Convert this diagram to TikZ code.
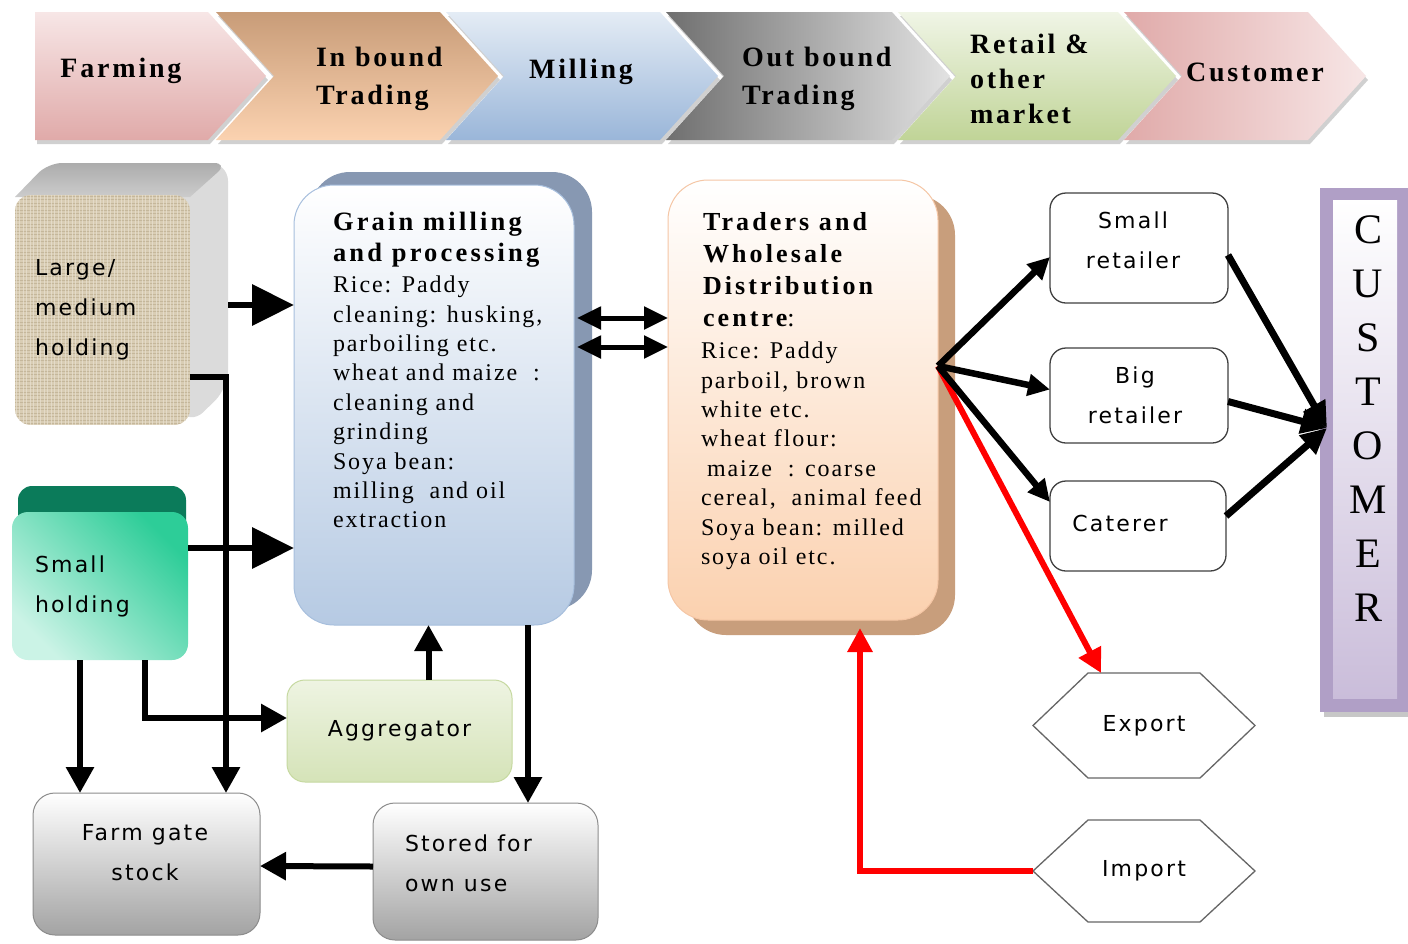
\documentclass[tikz,border=0pt]{standalone}
\usepackage{fontspec}
\setmainfont{Liberation Serif}
\newfontfamily\hdfont[LetterSpace=10]{Liberation Serif}
\newfontfamily\gtfont[LetterSpace=12]{Liberation Serif}
\newfontfamily\bdfont[LetterSpace=8]{Liberation Serif}
\newfontfamily\sffnt[LetterSpace=10]{DejaVu Sans}
\usetikzlibrary{arrows.meta,calc,shadows}

\definecolor{pinkA}{HTML}{F7E6E6}
\definecolor{pinkB}{HTML}{E0AAA9}
\definecolor{tanA}{HTML}{C89C78}
\definecolor{tanB}{HTML}{FBD2B0}
\definecolor{bluA}{HTML}{E4ECF5}
\definecolor{bluB}{HTML}{9AB6D9}
\definecolor{gryA}{HTML}{6F6F6F}
\definecolor{gryB}{HTML}{E2E2E2}
\definecolor{grnA}{HTML}{F0F5E6}
\definecolor{grnB}{HTML}{C0D497}
\definecolor{beige}{HTML}{D9CDB4}
\definecolor{texA}{HTML}{C5B79B}
\definecolor{texB}{HTML}{EAE2D2}
\definecolor{dkgrn}{HTML}{0B7B5A}
\definecolor{grnTop}{HTML}{2DCD98}
\definecolor{grnBot}{HTML}{CBF3E6}
\definecolor{gmBack}{HTML}{8798B2}
\definecolor{gmBot}{HTML}{B6CAE3}
\definecolor{gmLine}{HTML}{A7BFDD}
\definecolor{trBack}{HTML}{C89E7C}
\definecolor{trBot}{HTML}{FBD1AF}
\definecolor{trLine}{HTML}{F5C6A5}
\definecolor{agTop}{HTML}{EEF4E2}
\definecolor{agBot}{HTML}{D5E3B8}
\definecolor{agLine}{HTML}{C6D9A0}
\definecolor{gBot}{HTML}{A3A3A3}
\definecolor{purOut}{HTML}{B09FC6}
\definecolor{purIn}{HTML}{CABDDA}
\definecolor{arRed}{HTML}{FF0000}

\newcommand\myhex[1]{\draw[black!60, line width=1.3pt] (#1.west) -- ($(#1.north west)+(55,0)$) -- ($(#1.north east)+(-55,0)$) -- (#1.east) -- ($(#1.south east)+(-55,0)$) -- ($(#1.south west)+(55,0)$) -- cycle;}

\begin{document}
\begin{tikzpicture}[x=1pt,y=-1pt,
  every node/.style={inner sep=0pt,outer sep=0pt},
  chev/.style={drop shadow={shadow xshift=2pt, shadow yshift=-4pt, opacity=0.3, fill=black!60}},
  hdtxt/.style={font=\hdfont\bfseries\fontsize{28}{38}\selectfont, align=left},
  gtitle/.style={font=\gtfont\bfseries\fontsize{26.5}{31}\selectfont, align=left},
  gbody/.style={font=\bdfont\fontsize{24}{29.4}\selectfont, align=left},
  sanstxt/.style={font=\sffnt\fontsize{22}{40}\selectfont, align=left},
  bigarr/.style={line width=6.5pt, -{Triangle[length=42pt,width=40pt]}},
  arrS/.style={line width=6pt, -{Triangle[length=26pt,width=27pt]}},
  dbl/.style={line width=5pt, {Triangle[length=24pt,width=22pt]}-{Triangle[length=24pt,width=22pt]}},
  fanarr/.style={line width=6.5pt, -{Triangle[length=22pt,width=21pt]}},
  custarr/.style={line width=7pt, -{Triangle[length=26pt,width=24pt]}},
  redarr/.style={arRed, line width=6pt, -{Triangle[length=24pt,width=24pt]}},
  wbox/.style={draw=black!75, line width=1.3pt, fill=white, rounded corners=16pt},
  gbox/.style={draw=black!45, line width=1pt, top color=white, bottom color=gBot, rounded corners=22pt}
]
\useasboundingbox (0,0) rectangle (1408,943);
\fill[white] (0,0) rectangle (1408,943);

% ---------- header chevrons ----------
\shade[chev, top color=pinkA, bottom color=pinkB] (35,12) -- (208,12) -- (266,76) -- (208,140) -- (35,140) -- cycle;
\shade[chev, top color=tanA, bottom color=tanB] (216,12) -- (440,12) -- (498,76) -- (440,140) -- (216,140) -- (274,76) -- cycle;
\shade[chev, top color=bluA, bottom color=bluB] (446,12) -- (660,12) -- (718,76) -- (660,140) -- (446,140) -- (504,76) -- cycle;
\shade[chev, left color=gryA, right color=gryB] (666,12) -- (892,12) -- (950,76) -- (892,140) -- (666,140) -- (724,76) -- cycle;
\shade[chev, top color=grnA, bottom color=grnB] (898,12) -- (1118,12) -- (1176,76) -- (1118,140) -- (898,140) -- (956,76) -- cycle;
\shade[chev, left color=pinkB, right color=pinkA] (1124,12) -- (1308,12) -- (1366,76) -- (1308,140) -- (1124,140) -- (1182,76) -- cycle;

\node[hdtxt, anchor=base] (lfarm) at (121,77) {Farming};
\node[hdtxt, anchor=north west] (linb) at (316,47) {In bound\\Trading};
\node[hdtxt, anchor=base] (lmill) at (581,78) {Milling};
\node[hdtxt, anchor=north west] (loutb) at (742,47) {Out bound\\Trading};
\node[hdtxt, font=\hdfont\bfseries\fontsize{28}{35}\selectfont, anchor=north west] (lret) at (970,34) {Retail \&\\other\\market};
\node[hdtxt, anchor=base] (lcust) at (1255,81) {Customer};

% ---------- Large / medium holding (3D block) ----------
\fill[gray!28, rounded corners=18pt] (15,205) -- (48,163) -- (228,163) -- (228,388) -- (190,425) -- cycle;
\shade[top color=gray!65, bottom color=gray!40] (15,197) [rounded corners=14pt] -- (48,163) -- (228,163) [sharp corners] -- (190,197) -- cycle;
\begin{scope}
\clip[rounded corners=16pt] (15,195) rectangle (190,425);
\fill[beige] (15,195) rectangle (190,425);
\foreach \k in {1,4.5,...,232} \draw[texA, line width=0.8pt] (15,195+\k) -- (190,195+\k);
\foreach \k in {1,4.5,...,176} \draw[texB, line width=0.8pt, opacity=0.7] (15+\k,195) -- (15+\k,425);
\end{scope}
\node[sanstxt, minimum width=175pt, minimum height=230pt, text width=135pt] (large) at (102.5,310) {Large/\\medium\\holding};

% ---------- Small holding ----------
\fill[dkgrn, rounded corners=14pt] (18,486) rectangle (186,545);
\node[sanstxt, rounded corners=16pt, top color=grnTop, bottom color=grnBot, shading angle=-45,
      minimum width=176pt, minimum height=148pt, text width=130pt] (small) at (100,586) {Small\\holding};

% ---------- Grain milling ----------
\fill[gmBack, rounded corners=40pt] (310,172) rectangle (592,610);
\node[rounded corners=40pt, top color=white, bottom color=gmBot, draw=gmLine, line width=1pt,
      minimum width=280pt, minimum height=440pt] (grain) at (434,405) {};
\node[gtitle, anchor=north west] (gmt) at (333,212) {Grain milling\\and processing};
\node[gbody, anchor=north west] (gmb) at (333,276) {Rice: Paddy\\cleaning: husking,\\parboiling etc.\\wheat and maize\ \ :\\cleaning and\\grinding\\Soya bean:\\milling\ \ and oil\\extraction};

% ---------- Traders ----------
\fill[trBack, rounded corners=40pt] (686,195) rectangle (955,635);
\node[rounded corners=40pt, top color=white, bottom color=trBot, draw=trLine, line width=1pt,
      minimum width=270pt, minimum height=440pt] (traders) at (803,400) {};
\node[gtitle, font=\gtfont\bfseries\fontsize{26}{32}\selectfont, anchor=north west] (trt) at (703,212) {Traders and\\Wholesale\\Distribution\\centre{\mdseries:}};
\node[gbody, anchor=north west] (trb) at (701,342) {Rice: Paddy\\parboil, brown\\white etc.\\wheat flour:\\\hspace*{6pt}maize\ \ : coarse\\cereal,\ \ animal feed\\Soya bean: milled\\soya oil etc.};

% ---------- retail boxes ----------
\node[wbox, minimum width=178pt, minimum height=110pt] (sret) at (1139,248) {};
\node[sanstxt, align=center] (sretT) at (1133,240) {Small\\retailer};
\node[wbox, minimum width=178pt, minimum height=95pt] (bret) at (1139,395.5) {};
\node[sanstxt, align=center] (bretT) at (1135,395) {Big\\retailer};
\node[wbox, minimum width=176pt, minimum height=90pt] (cat) at (1138,526) {};
\node[sanstxt] (catT) at (1120,523) {Caterer};

% ---------- CUSTOMER column ----------
\fill[black!22] (1324,193) rectangle (1412,717);
\node[fill=purOut, minimum width=88pt, minimum height=524pt] (cust) at (1364,450) {};
\node[top color=white, bottom color=purIn, minimum width=64pt, minimum height=498pt] (custin) at (1365,449) {};
\node[font=\fontsize{42}{54}\selectfont, align=center] (custT) at (1368,419) {C\\U\\S\\T\\O\\M\\E\\R};

% ---------- Export / Import ----------
\node[sanstxt, minimum width=222pt, minimum height=105pt] (export) at (1144,725.5) {Export};
\myhex{export}
\node[sanstxt, minimum width=222pt, minimum height=102pt] (import) at (1144,871) {Import};
\myhex{import}

% ---------- bottom boxes ----------
\node[sanstxt, rounded corners=18pt, top color=agTop, bottom color=agBot, draw=agLine, line width=1pt,
      minimum width=225pt, minimum height=102pt] (agg) at (399.5,731) {Aggregator};
\node[gbox, minimum width=227pt, minimum height=142pt] (farm) at (146.5,864) {};
\node[sanstxt, align=center] (farmT) at (145,853) {Farm gate\\stock};
\node[gbox, minimum width=225pt, minimum height=137pt] (stored) at (485.5,871.5) {};
\node[sanstxt, anchor=west] (storedT) at (405,863) {Stored for\\own use};

% ---------- connectors ----------
\coordinate (la) at (228,305);
\draw[bigarr] (la) -- (la -| grain.west);
\coordinate (sh) at ($(small.east)+(0,-38)$);
\draw[bigarr] (sh) -- (sh -| grain.west);
\draw[arrS] ($(large.east)+(0,67)$) -| ($(farm.north east)+(-34,0)$);
\draw[arrS] ($(small.south west)+(68,0)$) -- ($(farm.north west)+(47,0)$);
\draw[arrS] ($(small.south west)+(133,0)$) |- ($(agg.west)+(0,-13)$);
\coordinate (ag) at ($(agg.north)+(29,0)$);
\draw[arrS] (ag) -- (ag |- grain.south);
\coordinate (gs) at ($(stored.north)+(42.5,0)$);
\draw[arrS] (gs |- grain.south) -- (gs);
\draw[arrS] ($(stored.west)+(0,-5)$) -- ($(farm.east)+(0,2)$);

\draw[dbl] ($(grain.east)+(3,-87)$) -- ($(traders.west)+(0,-82)$);
\draw[dbl] ($(grain.east)+(3,-58)$) -- ($(traders.west)+(0,-53)$);

\coordinate (fan) at (938,366);
\draw[redarr] (fan) -- ($(export.north west)+(68,0)$);
\draw[redarr] (import.west) -| ($(traders.south)+(57,8)$);
\draw[fanarr] (fan) -- ($(sret.west)+(0,9)$);
\draw[fanarr] (fan) -- ($(bret.west)+(0,-6)$);
\draw[fanarr] (fan) -- ($(cat.west)+(0,-24)$);

\coordinate (cin) at ($(cust.west)+(7,-22)$);
\draw[custarr] ($(sret.east)+(0,7)$) -- (cin);
\draw[custarr] ($(bret.east)+(0,6)$) -- (cin);
\draw[custarr] ($(cat.east)+(0,-10)$) -- (cin);
\end{tikzpicture}
\end{document}
